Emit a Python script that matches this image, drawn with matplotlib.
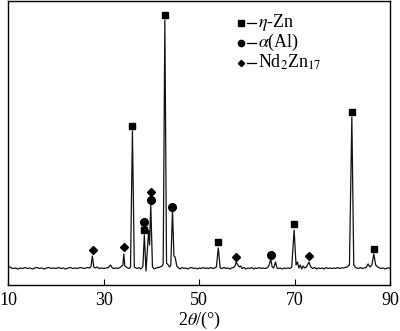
import matplotlib
matplotlib.use("Agg")
import matplotlib.pyplot as plt

plt.rcParams['font.family'] = ['Liberation Serif', 'DejaVu Serif']
plt.rcParams['mathtext.fontset'] = 'stix'

two_theta = [10.0, 10.3, 10.6, 11.0, 11.5, 12.0, 12.5, 13.0, 13.5, 14.0, 14.5, 15.0, 15.5, 16.0, 16.5,
             17.0, 17.5, 18.0, 18.5, 19.0, 19.5, 20.0, 20.5, 21.0, 21.5, 22.0, 22.5, 23.0, 23.5, 24.0,
             24.5, 25.0, 25.5, 26.0, 26.5, 27.0, 27.3, 27.6, 27.9, 28.2, 28.6, 29.0, 29.5, 30.0, 30.5,
             31.0, 31.4, 31.8, 32.2, 32.6, 33.0, 33.4, 33.8, 34.0, 34.2, 34.4, 34.7, 35.0, 35.3, 35.6,
             36.0, 36.4, 36.7, 37.0, 37.4, 37.7, 38.0, 38.2, 38.5, 38.85, 39.4, 39.6, 39.85, 40.2, 40.6,
             41.0, 41.4, 41.8, 42.2, 42.45, 42.8, 43.15, 43.5, 43.8, 44.05, 44.4, 44.7, 44.95, 45.3, 45.7,
             46.0, 46.4, 46.8, 47.2, 47.6, 48.0, 48.4, 48.8, 49.2, 49.6, 50.0, 50.4, 50.8, 51.2, 51.6,
             52.0, 52.4, 52.8, 53.2, 53.6, 54.0, 54.4, 54.8, 55.2, 55.6, 56.0, 56.4, 56.8, 57.2, 57.5,
             57.75, 58.1, 58.4, 58.7, 59.0, 59.4, 59.8, 60.2, 60.6, 61.0, 61.4, 61.8, 62.2, 62.6, 63.0,
             63.4, 63.8, 64.2, 64.6, 65.0, 65.3, 65.6, 66.0, 66.3, 66.6, 67.0, 67.4, 67.8, 68.2, 68.6,
             69.0, 69.4, 69.9, 70.3, 70.6, 70.9, 71.2, 71.5, 71.8, 72.1, 72.5, 73.0, 73.4, 73.8, 74.2,
             74.6, 75.0, 75.4, 75.8, 76.2, 76.6, 77.0, 77.4, 77.8, 78.2, 78.6, 79.0, 79.4, 79.8, 80.2,
             80.6, 81.0, 81.5, 82.0, 82.4, 82.7, 83.0, 83.4, 83.8, 84.2, 84.6, 85.0, 85.4, 85.8, 86.2,
             86.6, 87.0, 87.4, 87.8, 88.2, 88.6, 89.0, 89.4, 89.8, 90.0]
intensity = [19, 18, 17, 16.5, 17, 16, 17, 16.5, 17.5, 16.5, 17, 16, 17, 17.5, 16.5,
             17, 16, 17, 17.5, 16.5, 17, 16.5, 17.5, 16.5, 17, 16, 17, 17.5, 16.5, 17,
             16.5, 17.5, 17, 16.5, 17.5, 17, 18, 29, 18, 17, 18, 16.5, 17, 16.5, 17,
             17.5, 20, 17, 16.5, 17, 16.5, 17.5, 19, 20, 31, 19, 18, 17, 16.5, 18,
             154, 18, 17, 16.5, 17.5, 16, 17, 19, 50, 14, 55, 40, 80, 18, 16,
             17, 17.5, 18, 19, 21, 265, 22, 20, 18, 20, 75, 29, 28, 19, 17,
             16, 17.5, 16.5, 17, 16, 17, 17.5, 16.5, 17, 16, 17, 16.5, 17.5, 16.5, 17,
             16.5, 17.5, 16.5, 17, 18, 37, 17, 16.5, 17.5, 16.5, 17, 16, 17, 17.5, 19,
             23, 20, 18, 19, 16.5, 17.5, 16, 17, 16.5, 17.5, 16, 17, 16.5, 17.5, 16.5,
             17, 16.5, 17, 19, 26, 18, 17, 23, 17, 16.5, 17, 16, 17, 16.5, 17,
             16.5, 18, 55, 20, 23, 17, 20, 16, 19, 17, 18, 23, 18, 16.5, 17.5,
             16, 17, 16.5, 17, 16, 17.5, 16.5, 17, 16.5, 17, 16.5, 17.5, 16.5, 17, 17,
             17.5, 18, 20, 168, 20, 18, 17, 16.5, 17.5, 16.5, 17, 17.5, 21, 18, 20,
             31, 20, 18, 17, 16.5, 17, 16, 17, 17, 16.5]

zn_pos = [36.0, 38.4, 42.75, 54.0, 69.9, 82.0, 86.6]
zn_mark = [159, 55, 270, 43, 61, 173, 36]
al_pos = [38.4, 39.8, 44.4, 65.0]
al_mark = [63, 85, 78, 30]
nd_pos = [27.7, 34.2, 39.8, 57.7, 73.0]
nd_mark = [35, 38, 93, 28, 29]

legend_labels = [r'$\eta$-Zn', r'$\alpha$(Al)', r'Nd$_2$Zn$_{17}$']
legend_markers = ['s', 'o', 'D']

fig = plt.figure(figsize=(4.0, 3.31), dpi=100)
ax = fig.add_axes([0.021, 0.139, 0.954, 0.858])
ax.plot(two_theta, intensity, color='#111111', lw=0.9)
ax.plot(zn_pos, zn_mark, 's', color='black', ms=5, ls='none')
ax.plot(al_pos, al_mark, 'o', color='black', ms=5.5, ls='none')
ax.plot(nd_pos, nd_mark, 'D', color='black', ms=3.6, ls='none')

ax.set_xlim(10, 90)
ax.set_ylim(0, 284)
ax.set_xticks([10, 30, 50, 70, 90])
ax.set_yticks([])
ax.tick_params(axis='x', direction='in', length=4, width=0.8, pad=5, labelsize=13)
for s in ax.spines.values():
    s.set_linewidth(1.0)
ax.set_xlabel(r'2$\theta$/(°)', fontsize=13, labelpad=1)

ys = [0.923, 0.853, 0.783]
msz = [4, 4.5, 3.2]
for y, lab, m, sz in zip(ys, legend_labels, legend_markers, msz):
    ax.plot([0.610], [y], m, color='black', ms=sz, transform=ax.transAxes)
    ax.plot([0.625, 0.648], [y, y], color='black', lw=0.9, transform=ax.transAxes)
    ax.text(0.655, y, lab, transform=ax.transAxes, fontsize=13, va='center', ha='left')

fig.savefig('out.png', dpi=100)
